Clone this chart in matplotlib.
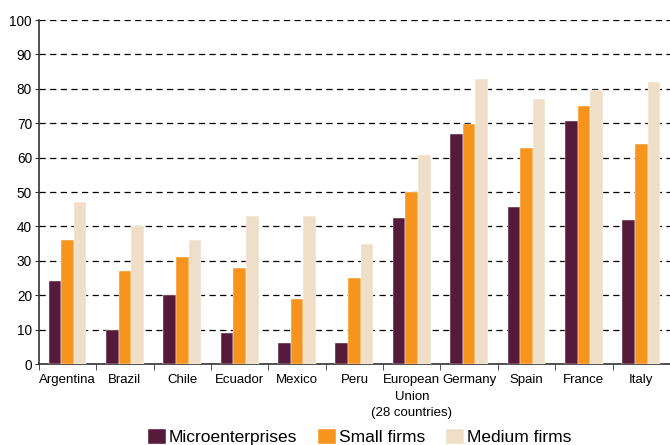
import numpy as np
import matplotlib.pyplot as plt

plt.rcParams['font.family'] = ['Liberation Sans', 'DejaVu Sans']

countries = ["Argentina", "Brazil", "Chile", "Ecuador", "Mexico", "Peru",
             "European", "Germany", "Spain", "France", "Italy"]
eu_extra = "Union\n(28 countries)"  # rest of the EU label, set as its own text
micro = [24, 10, 20, 9, 6, 6, 42.4, 67, 45.7, 70.7, 42]
small = [36, 27, 31, 28, 19, 25, 50, 69.8, 62.8, 74.9, 63.9]
medium = [47, 40, 36, 43, 43, 35, 60.8, 82.8, 77, 79.7, 81.9]

series = [("Microenterprises", micro, "#561b3a"),
          ("Small firms", small, "#f7941e"),
          ("Medium firms", medium, "#f0dfc8")]

fig = plt.figure(figsize=(6.7, 4.45), dpi=100)
ax = fig.add_axes([0.058, 0.182, 0.942, 0.773])

x = np.arange(len(countries))
w = 0.22
for i, (name, vals, col) in enumerate(series):
    ax.bar(x + (i - 1) * w, vals, width=w, color=col, label=name, zorder=3,
           edgecolor="white", linewidth=0.3)

ax.set_ylim(0, 100)
ax.set_xlim(-0.5, 10.35)
ax.set_yticks(range(0, 101, 10))
ax.yaxis.grid(True, linestyle=(0, (5, 3.5)), color="black", linewidth=0.9, zorder=0)
ax.set_xticks(x)
ax.set_xticklabels(countries, fontsize=9.5)
ax.set_xticks(np.arange(-0.5, 11, 1), minor=True)
ax.tick_params(axis="x", which="major", length=0, pad=7)
ax.tick_params(axis="x", which="minor", length=4, direction="out", color="#333333")
ax.tick_params(axis="y", labelsize=9.8, length=3, pad=2, color="#333333")

ax.annotate(eu_extra, xy=(countries.index("European"), 0), xycoords=("data", "axes fraction"),
            xytext=(0, -19.5), textcoords="offset points", ha="center", va="top",
            fontsize=9.5, linespacing=1.4)

for s in ["top", "right"]:
    ax.spines[s].set_visible(False)
ax.spines["left"].set_color("#333333")
ax.spines["bottom"].set_color("#333333")
ax.spines["left"].set_linewidth(1.2)
ax.spines["bottom"].set_linewidth(1.2)

fig.legend(loc="center", bbox_to_anchor=(0.537, 0.018), ncol=3, frameon=False,
           fontsize=12.5, handlelength=1.0, handleheight=1.0, handletextpad=0.2,
           columnspacing=1.2)

fig.savefig("out.png", dpi=100)
